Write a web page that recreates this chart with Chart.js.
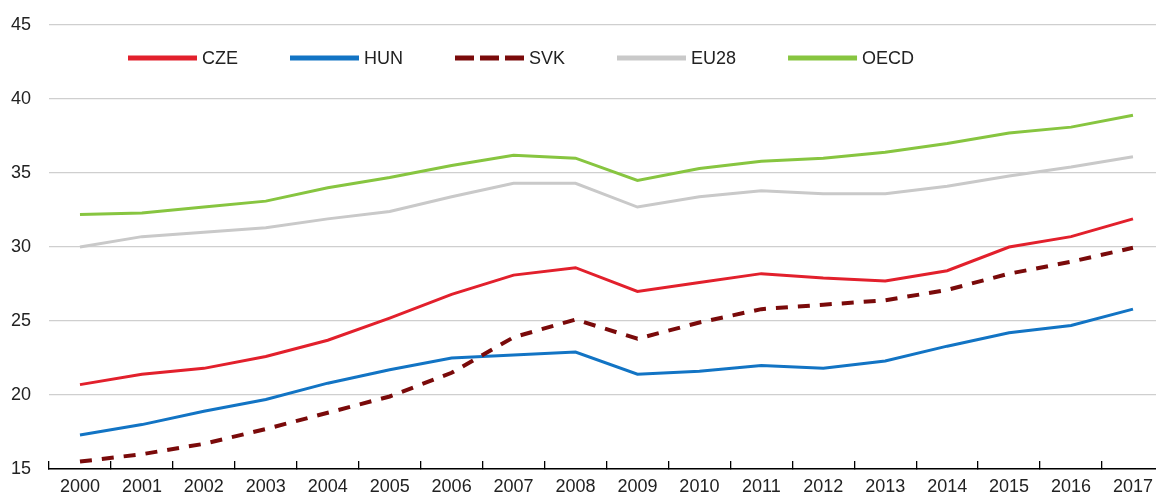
<!DOCTYPE html>
<html>
<head>
<meta charset="utf-8">
<script src="https://cdn.jsdelivr.net/npm/chart.js@4"></script>
<style>
  html, body { margin: 0; padding: 0; background: #fff; overflow: hidden; }
  #wrap { width: 1168px; height: 494px; }
</style>
</head>
<body>
<div id="wrap"><canvas id="chart" width="1168" height="494"></canvas></div>
<script>
// values
const years = ['2000', '2001', '2002', '2003', '2004', '2005', '2006', '2007', '2008',
  '2009', '2010', '2011', '2012', '2013', '2014', '2015', '2016', '2017'];
const cze = [20.7, 21.4, 21.8, 22.6, 23.7, 25.2, 26.8, 28.1, 28.6, 27.0, 27.6, 28.2, 27.9, 27.7, 28.4, 30.0, 30.7, 31.9];
const hun = [17.3, 18.0, 18.9, 19.7, 20.8, 21.7, 22.5, 22.7, 22.9, 21.4, 21.6, 22.0, 21.8, 22.3, 23.3, 24.2, 24.7, 25.8];
const svk = [15.5, 16.0, 16.7, 17.7, 18.8, 19.9, 21.5, 23.9, 25.1, 23.8, 24.9, 25.8, 26.1, 26.4, 27.1, 28.2, 29.0, 29.95];
const eu28 = [30.0, 30.7, 31.0, 31.3, 31.9, 32.4, 33.4, 34.3, 34.3, 32.7, 33.4, 33.8, 33.6, 33.6, 34.1, 34.8, 35.4, 36.1];
const oecd = [32.2, 32.3, 32.7, 33.1, 34.0, 34.7, 35.5, 36.2, 36.0, 34.5, 35.3, 35.8, 36.0, 36.4, 37.0, 37.7, 38.1, 38.9];
const yMin = 15, yMax = 45, yStep = 5;

const FONT = '"Liberation Sans Narrow", "Arial Narrow", "Liberation Sans", sans-serif';
const TXT = '#222';

// legend drawn by hand so it sits left of centre like the original
const lineLegend = {
  id: 'lineLegend',
  afterDraw(chart) {
    const ctx = chart.ctx;
    ctx.save();
    ctx.font = '18px ' + FONT;
    ctx.textBaseline = 'middle';
    let x = 128;
    const y = 58;
    chart.data.datasets.forEach(ds => {
      ctx.beginPath();
      ctx.strokeStyle = ds.borderColor;
      ctx.lineWidth = 5;
      ctx.setLineDash(ds.borderDash ? [19, 6] : []);
      ctx.moveTo(x, y);
      ctx.lineTo(x + 69, y);
      ctx.stroke();
      ctx.setLineDash([]);
      ctx.fillStyle = TXT;
      ctx.fillText(ds.label, x + 74, y + 1);
      x += 74 + ctx.measureText(ds.label).width + 52;
    });
    ctx.restore();
  }
};

new Chart(document.getElementById('chart').getContext('2d'), {
  type: 'line',
  data: {
    labels: years,
    datasets: [
      { label: 'CZE', data: cze, borderColor: '#e2202c', borderWidth: 3 },
      { label: 'HUN', data: hun, borderColor: '#1274c4', borderWidth: 3 },
      { label: 'SVK', data: svk, borderColor: '#7a0a0a', borderWidth: 4, borderDash: [12, 10], order: -1 },
      { label: 'EU28', data: eu28, borderColor: '#c9c9c9', borderWidth: 3 },
      { label: 'OECD', data: oecd, borderColor: '#87c540', borderWidth: 3 }
    ]
  },
  options: {
    responsive: false,
    animation: false,
    devicePixelRatio: 1,
    layout: { padding: { top: 25, left: 0, right: 0, bottom: 0 } },
    elements: {
      point: { radius: 0 },
      line: { tension: 0, fill: false, borderCapStyle: 'butt' }
    },
    plugins: { legend: { display: false }, tooltip: { enabled: false } },
    scales: {
      x: {
        offset: true,
        grid: { offset: true, drawOnChartArea: false, tickLength: -8, color: '#000', lineWidth: 1.3 },
        border: { color: '#000', width: 1.5 },
        ticks: { color: TXT, font: { family: FONT, size: 18 }, padding: 15, maxRotation: 0, autoSkip: false },
        afterFit: s => { s.height = 25; }
      },
      y: {
        min: yMin,
        max: yMax,
        grid: { color: '#cfcfcf', lineWidth: 1.3, drawTicks: false },
        border: { display: false },
        ticks: { stepSize: yStep, color: TXT, font: { family: FONT, size: 18 }, padding: 18 },
        afterFit: s => { s.width = 49; s.paddingTop = 0; s.paddingBottom = 0; }
      }
    }
  },
  plugins: [lineLegend]
});
</script>
</body>
</html>
